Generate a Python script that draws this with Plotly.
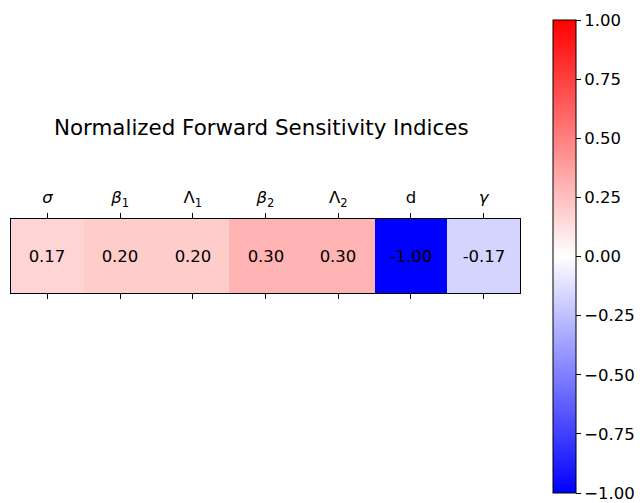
import plotly.graph_objects as go

# Sensitivity index values, one per model parameter
params = ["<i>σ</i>", "<i>β</i><sub>1</sub>", "Λ<sub>1</sub>", "<i>β</i><sub>2</sub>",
          "Λ<sub>2</sub>", "d", "<i>γ</i>"]
indices = [0.17, 0.20, 0.20, 0.30, 0.30, -1.00, -0.17]
cbar_ticks = [-1.0, -0.75, -0.5, -0.25, 0.0, 0.25, 0.5, 0.75, 1.0]

W, H = 640, 503
FONT = "DejaVu Sans"
FS = 16.5

xs = list(range(len(params)))
labels = [f"{v:.2f}" for v in indices]

bwr = [[0.0, "rgb(0,0,255)"], [0.5, "rgb(255,255,255)"], [1.0, "rgb(255,0,0)"]]

fig = go.Figure(go.Heatmap(
    z=[indices],
    x=xs,
    y=[0],
    text=[labels],
    texttemplate="%{text}",
    textfont=dict(family=FONT, size=FS, color="black"),
    colorscale=bwr,
    zmin=-1, zmax=1,
    colorbar=dict(
        thickness=23,
        len=473, lenmode="pixels",
        x=553 / W, xanchor="left", xpad=0,
        y=1 - 256.5 / H, yanchor="middle", ypad=0,
        outlinewidth=1, outlinecolor="black",
        tickvals=cbar_ticks,
        ticktext=[f"{v:.2f}".replace("-", "\u2212") for v in cbar_ticks],
        ticks="outside", ticklen=5, tickwidth=1, tickcolor="black",
        tickfont=dict(family=FONT, size=FS, color="black"),
    ),
    hoverinfo="skip",
))

fig.update_layout(
    width=W, height=H,
    margin=dict(l=0, r=0, t=0, b=0),
    paper_bgcolor="white", plot_bgcolor="white",
    font=dict(family=FONT, color="black"),
    xaxis=dict(
        domain=[11 / W, 520 / W],
        range=[-0.5, len(params) - 0.5],
        side="top",
        tickvals=xs, ticktext=params,
        ticks="outside", ticklen=5, tickwidth=1, tickcolor="black",
        ticklabelstandoff=3,
        tickfont=dict(family=FONT, size=FS, color="black"),
        showline=True, linecolor="black", linewidth=1, mirror="ticks",
        showgrid=False, zeroline=False, fixedrange=True,
    ),
    yaxis=dict(
        domain=[1 - 293 / H, 1 - 219 / H],
        range=[-0.5, 0.5],
        showticklabels=False, ticks="",
        showline=True, linecolor="black", linewidth=1, mirror=True,
        showgrid=False, zeroline=False, fixedrange=True,
    ),
    annotations=[dict(
        text="Normalized Forward Sensitivity Indices",
        x=261 / W, y=1 - 128 / H,
        xref="paper", yref="paper",
        xanchor="center", yanchor="middle",
        showarrow=False,
        font=dict(family=FONT, size=21.4, color="black"),
    )],
)

fig.write_html("out.html")
